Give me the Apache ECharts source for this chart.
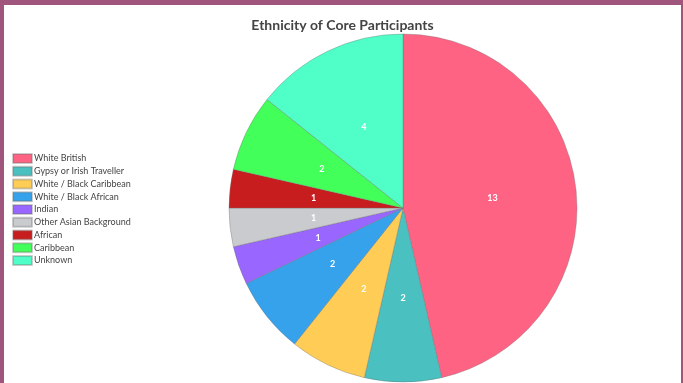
<!DOCTYPE html>
<html>
<head>
<meta charset="utf-8">
<script src="https://cdn.jsdelivr.net/npm/echarts@6/dist/echarts.min.js"></script>
<style>
  html, body { margin: 0; padding: 0; }
  body { width: 683px; height: 383px; background: #a0557c; overflow: hidden; }
  #chart { position: absolute; left: 4px; top: 5px; width: 677px; height: 378px; background: #ffffff; }
</style>
</head>
<body>
<div id="chart"></div>
<script>
const categories = [
  'White British', 'Gypsy or Irish Traveller', 'White / Black Caribbean',
  'White / Black African', 'Indian', 'Other Asian Background',
  'African', 'Caribbean', 'Unknown'
];
const counts = [13, 2, 2, 2, 1, 1, 1, 2, 4];
const sliceColors = [
  '#ff6384', '#4bc0c0', '#ffcd56', '#36a2eb', '#9966ff',
  '#c9cbcf', '#c81d1e', '#42ff5a', '#50ffc8'
];

const chart = echarts.init(document.getElementById('chart'), null, { renderer: 'canvas' });
chart.setOption({
  animation: false,
  title: {
    text: 'Ethnicity of Core Participants',
    left: 'center',
    top: 8,
    textStyle: { fontFamily: 'Lato', fontSize: 14, fontWeight: 'bold', color: '#444444' }
  },
  color: sliceColors,
  legend: {
    orient: 'vertical',
    left: 8,
    top: 148,
    padding: 0,
    itemWidth: 19,
    itemHeight: 9,
    itemGap: 1.75,
    icon: 'rect',
    textStyle: { fontFamily: 'Lato', fontSize: 9, color: '#444444', padding: [0, 0, 0, -3] },
    data: categories
  },
  series: [{
    type: 'pie',
    center: [399, 203],
    radius: [0, 174],
    startAngle: 90,
    clockwise: true,
    itemStyle: { borderColor: 'rgba(110,110,110,0.35)', borderWidth: 1 },
    label: {
      show: true,
      position: 'inside',
      formatter: '{c}',
      color: '#ffffff',
      fontFamily: 'Lato',
      fontWeight: 'bold',
      fontSize: 9
    },
    labelLine: { show: false },
    emphasis: { disabled: true },
    data: categories.map((name, i) => ({ name: name, value: counts[i] }))
  }]
});
</script>
</body>
</html>
